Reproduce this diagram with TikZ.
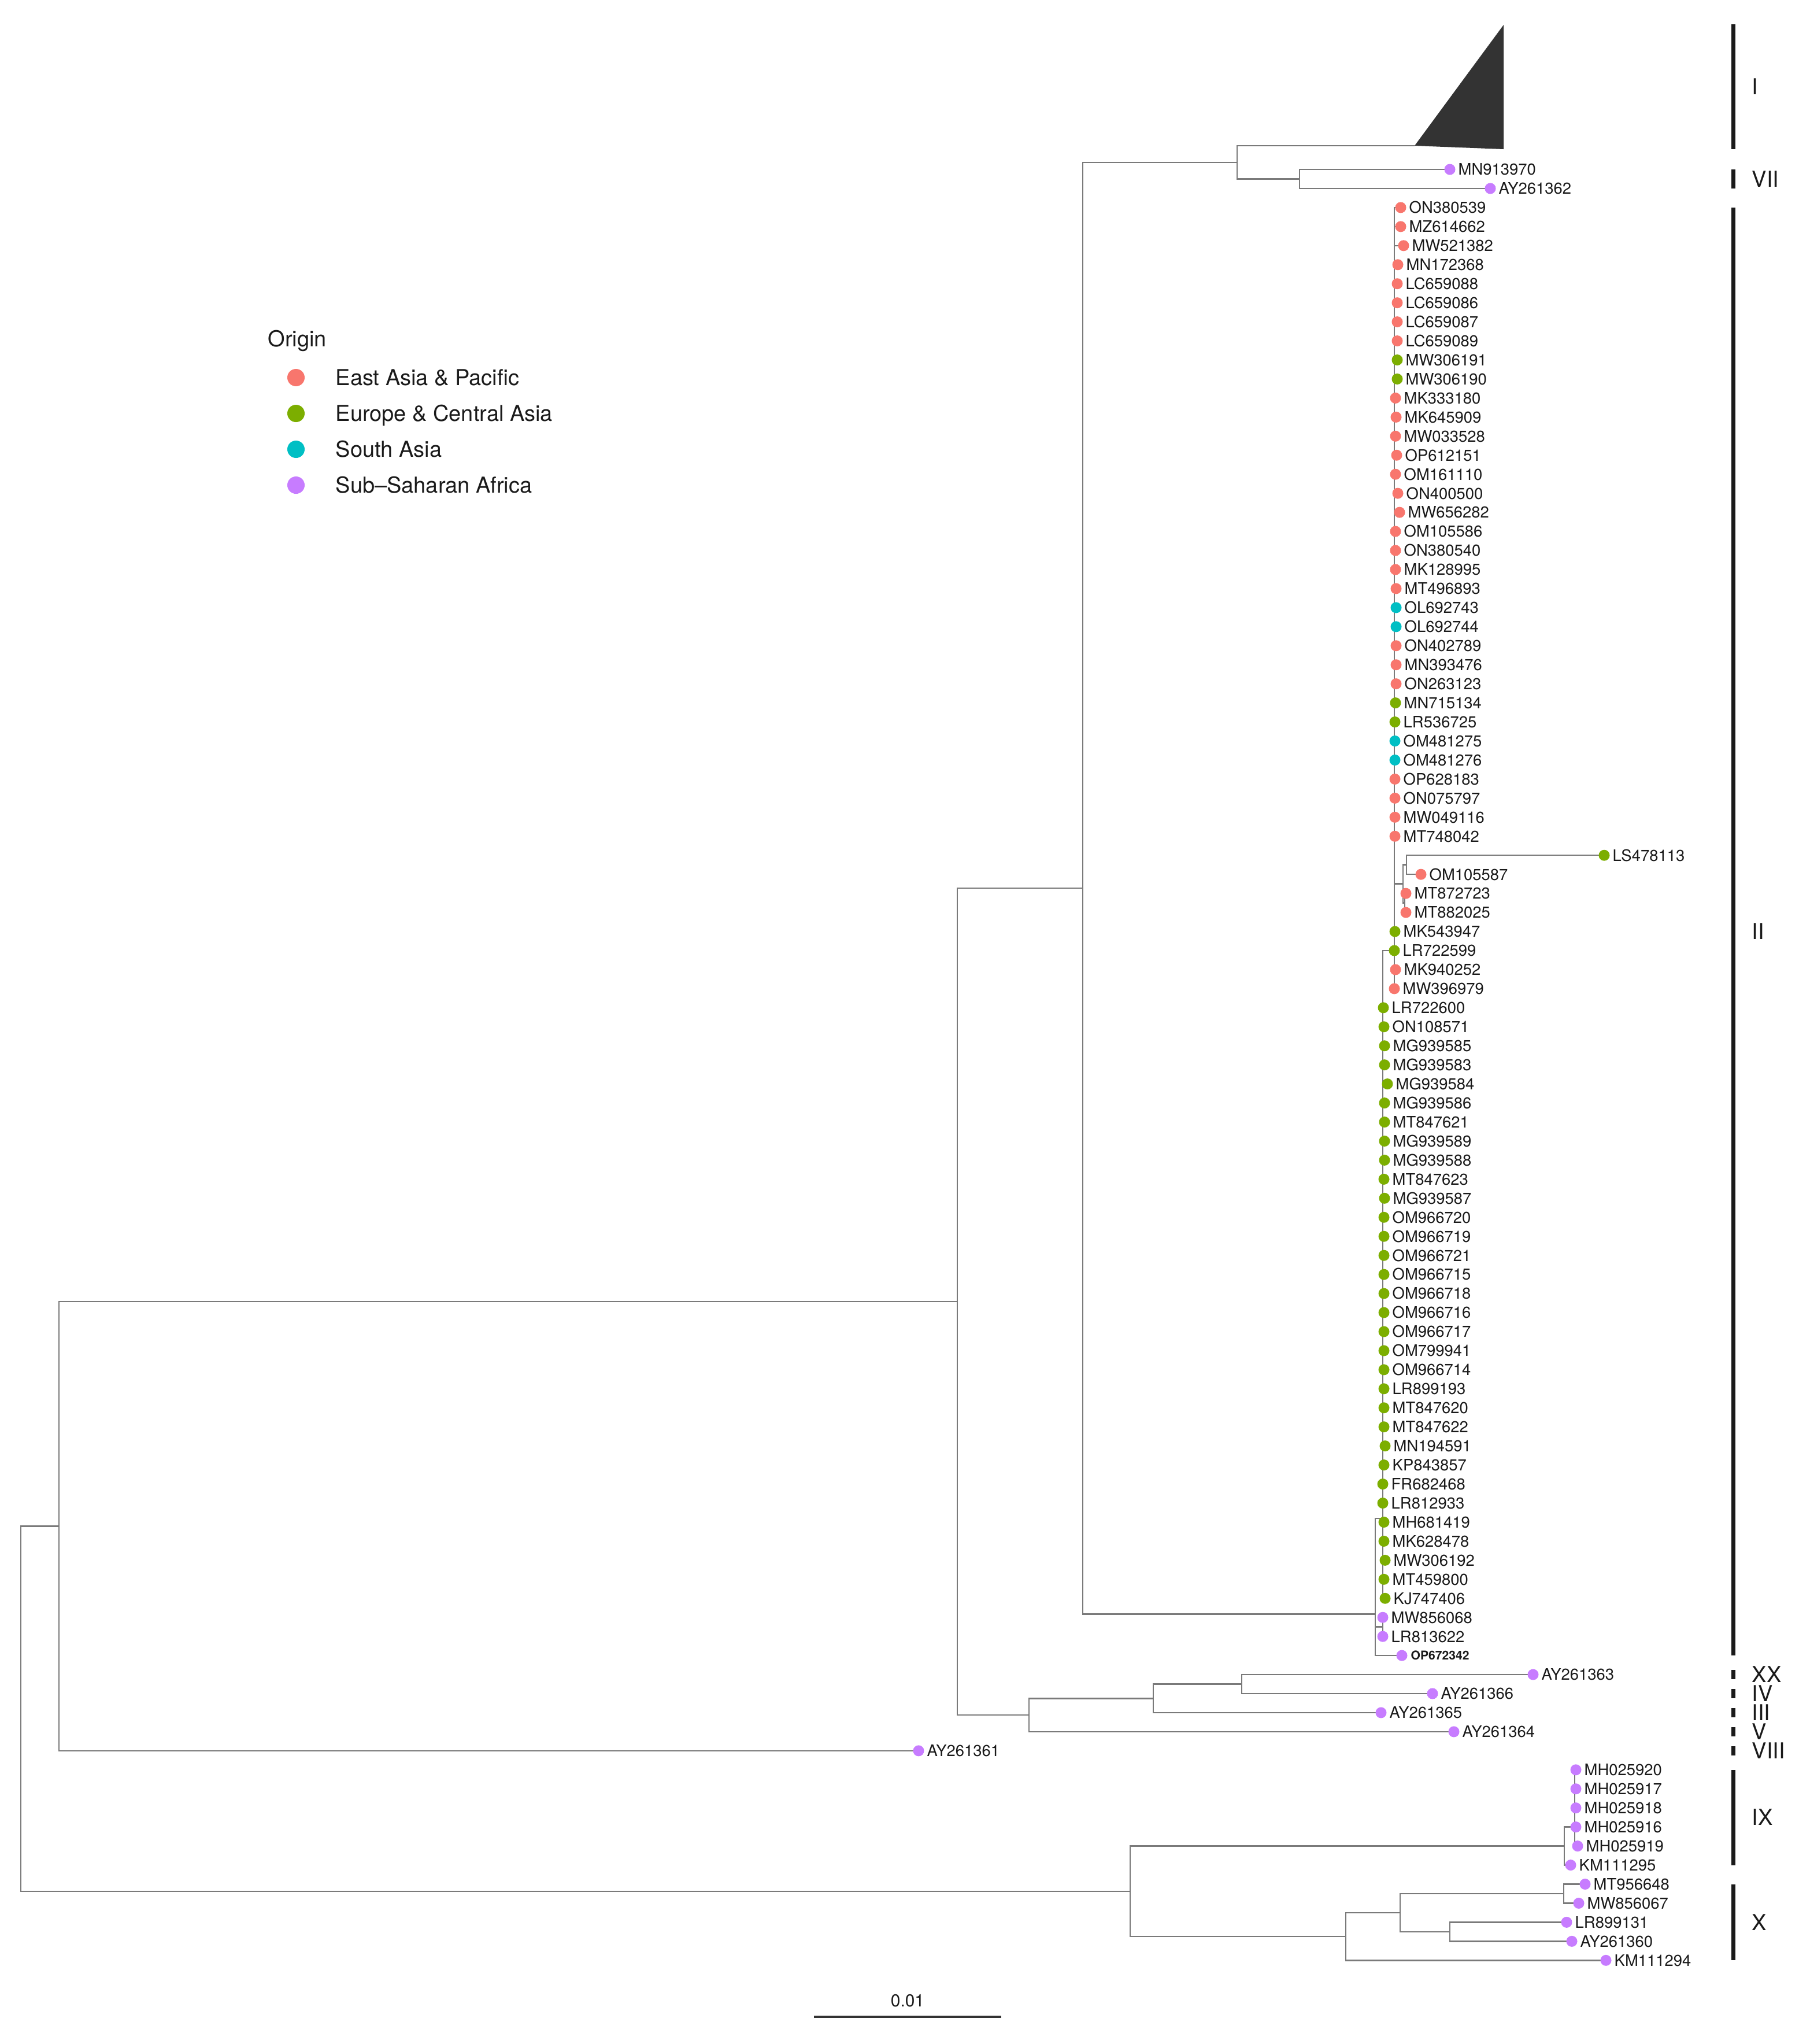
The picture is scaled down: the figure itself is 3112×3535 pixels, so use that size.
\documentclass[tikz,border=0pt]{standalone}
\usepackage{fontspec}
\setmainfont{TeX Gyre Heros}
\definecolor{cea}{HTML}{F8766D}
\definecolor{ceu}{HTML}{7CAE00}
\definecolor{csa}{HTML}{00BFC4}
\definecolor{css}{HTML}{C77CFF}
\definecolor{brc}{HTML}{7A7A7A}
\definecolor{txt}{HTML}{1A1A1A}
\definecolor{trifill}{HTML}{333333}
\pgfdeclarelayer{bg}
\pgfsetlayers{bg,main}
\newcommand{\rowy}[1]{293+32.95*(#1)}
\begin{document}
\begin{tikzpicture}[x=0.01cm,y=-0.01cm,
  br/.style={draw=brc,line width=0.7pt},
  tipdot/.style={circle,inner sep=0pt,minimum size=0.19cm},
  tiplab/.style={anchor=west,inner sep=0pt,font=\fontsize{7.8}{9}\selectfont,text=txt,text height=5.6pt,text depth=0pt},
  cbar/.style={line width=2pt,draw=txt},
  clab/.style={anchor=west,inner sep=0pt,font=\fontsize{10.8}{13}\selectfont,text=txt,text height=7.75pt,text depth=0pt},
  legdot/.style={circle,inner sep=0pt,minimum size=0.3cm},
  leglab/.style={anchor=west,inner sep=0pt,font=\fontsize{10.8}{13}\selectfont,text=txt,text height=7.75pt,text depth=0pt},
]
\useasboundingbox (0,0) rectangle (3112,3535);

% internal nodes
\coordinate (nRoot) at (36,{\rowy{80.79}});
\coordinate (nA) at (102,{\rowy{71.21}});
\coordinate (nJ) at (1955,{\rowy{90.375}});
\coordinate (nB) at (1656,{\rowy{59.43}});
\coordinate (nC) at (1873,{\rowy{37.73}});
\coordinate (nF) at (1780,{\rowy{81.125}});
\coordinate (nG) at (1995,{\rowy{80.25}});
\coordinate (nH) at (2148,{\rowy{79.5}});
\coordinate (nD) at (2140,{\rowy{-0.37}});
\coordinate (triA) at (2447,{\rowy{-1.244}});
\coordinate (triB) at (2601,43);
\coordinate (triC) at (2601,258);
\coordinate (nE) at (2248,{\rowy{0.5}});
\coordinate (nII) at (2379,{\rowy{75.825}});
\coordinate (nV) at (2392,{\rowy{70.8}});
\coordinate (nX) at (2412,{\rowy{41}});
\coordinate (nQ) at (2427,{\rowy{37.5}});
\coordinate (nR) at (2433,{\rowy{36.5}});
\coordinate (nS) at (2430,{\rowy{38.5}});
\coordinate (nU) at (2392,{\rowy{76.5}});
\coordinate (nK) at (2706,{\rowy{88}});
\coordinate (nL) at (2724,{\rowy{87}});
\coordinate (nM) at (2328,{\rowy{92.75}});
\coordinate (nN) at (2422,{\rowy{91.5}});
\coordinate (nO) at (2705,{\rowy{90.5}});
\coordinate (nP) at (2508,{\rowy{92.5}});

% internal branches
\begin{pgfonlayer}{bg}
\draw[br] (nRoot) |- (nA);
\draw[br] (nRoot) |- (nJ);
\draw[br] (nA) |- (nB);
\draw[br] (nB) |- (nC);
\draw[br] (nB) |- (nF);
\draw[br] (nC) |- (nD);
\draw[br] (nC) |- (nII);
\draw[br] (nD) |- (triA);
\draw[br] (nD) |- (nE);
\draw[br] (nII) |- (nV);
\draw[br] (nII) |- (nU);
\draw[br] (nV) |- (nX);
\draw[br] (nX) |- (nQ);
\draw[br] (nQ) |- (nR);
\draw[br] (nQ) |- (nS);
\draw[br] (nF) |- (nG);
\draw[br] (nG) |- (nH);
\draw[br] (nJ) |- (nK);
\draw[br] (nJ) |- (nM);
\draw[br] (nK) |- (nL);
\draw[br] (nM) |- (nN);
\draw[br] (nN) |- (nO);
\draw[br] (nN) |- (nP);
\end{pgfonlayer}

% collapsed clade I
\fill[trifill] (triA) -- (triB) -- (triC) -- cycle;

% tips
\foreach \r/\x/\lab/\c/\p in {
0/2508/MN913970/css/nE,
1/2578/AY261362/css/nE,
2/2423/ON380539/cea/nX,
3/2423/MZ614662/cea/nX,
4/2428/MW521382/cea/nX,
5/2418/MN172368/cea/nX,
6/2417/LC659088/cea/nX,
7/2417/LC659086/cea/nX,
8/2417/LC659087/cea/nX,
9/2417/LC659089/cea/nX,
10/2417/MW306191/ceu/nX,
11/2417/MW306190/ceu/nX,
12/2414/MK333180/cea/nX,
13/2415/MK645909/cea/nX,
14/2414/MW033528/cea/nX,
15/2416/OP612151/cea/nX,
16/2414/OM161110/cea/nX,
17/2418/ON400500/cea/nX,
18/2421/MW656282/cea/nX,
19/2414/OM105586/cea/nX,
20/2414/ON380540/cea/nX,
21/2414/MK128995/cea/nX,
22/2415/MT496893/cea/nX,
23/2415/OL692743/csa/nX,
24/2415/OL692744/csa/nX,
25/2415/ON402789/cea/nX,
26/2415/MN393476/cea/nX,
27/2415/ON263123/cea/nX,
28/2414/MN715134/ceu/nX,
29/2413/LR536725/ceu/nX,
30/2413/OM481275/csa/nX,
31/2413/OM481276/csa/nX,
32/2413/OP628183/cea/nX,
33/2413/ON075797/cea/nX,
34/2413/MW049116/cea/nX,
35/2413/MT748042/cea/nX,
36/2775/LS478113/ceu/nR,
37/2458/OM105587/cea/nR,
38/2432/MT872723/cea/nS,
39/2432/MT882025/cea/nS,
40/2413/MK543947/ceu/nX,
41/2412/LR722599/ceu/nX,
42/2414/MK940252/cea/nX,
43/2412/MW396979/cea/nX,
44/2393/LR722600/ceu/nV,
45/2394/ON108571/ceu/nV,
46/2395/MG939585/ceu/nV,
47/2395/MG939583/ceu/nV,
48/2400/MG939584/ceu/nV,
49/2395/MG939586/ceu/nV,
50/2395/MT847621/ceu/nV,
51/2395/MG939589/ceu/nV,
52/2395/MG939588/ceu/nV,
53/2394/MT847623/ceu/nV,
54/2395/MG939587/ceu/nV,
55/2394/OM966720/ceu/nV,
56/2394/OM966719/ceu/nV,
57/2394/OM966721/ceu/nV,
58/2394/OM966715/ceu/nV,
59/2394/OM966718/ceu/nV,
60/2394/OM966716/ceu/nV,
61/2394/OM966717/ceu/nV,
62/2394/OM799941/ceu/nV,
63/2394/OM966714/ceu/nV,
64/2394/LR899193/ceu/nV,
65/2394/MT847620/ceu/nV,
66/2394/MT847622/ceu/nV,
67/2396/MN194591/ceu/nV,
68/2394/KP843857/ceu/nV,
69/2392/FR682468/ceu/nV,
70/2392/LR812933/ceu/nV,
71/2394/MH681419/ceu/nV,
72/2394/MK628478/ceu/nV,
73/2396/MW306192/ceu/nV,
74/2394/MT459800/ceu/nV,
75/2396/KJ747406/ceu/nV,
76/2392/MW856068/css/nU,
77/2392/LR813622/css/nU,
79/2652/AY261363/css/nH,
80/2478/AY261366/css/nH,
81/2389/AY261365/css/nG,
82/2515/AY261364/css/nF,
83/1589/AY261361/css/nA,
84/2726/MH025920/css/nL,
85/2726/MH025917/css/nL,
86/2726/MH025918/css/nL,
87/2726/MH025916/css/nL,
88/2729/MH025919/css/nL,
89/2717/KM111295/css/nK,
90/2742/MT956648/css/nO,
91/2731/MW856067/css/nO,
92/2710/LR899131/css/nP,
93/2719/AY261360/css/nP,
94/2778/KM111294/css/nM}{
  \node[tipdot,fill=\c] (t\r) at (\x,{\rowy{\r}}) {};
  \node[tiplab] (l\r) at ([xshift=0.14cm]t\r.center) {\lab};
  \begin{pgfonlayer}{bg}
    \draw[br] (\p) |- (t\r.center);
  \end{pgfonlayer}
}
% OP672342 (bold)
\node[tipdot,fill=css] (t78) at (2425,{\rowy{78}}) {};
\node[tiplab,font=\bfseries\fontsize{6}{7}\selectfont,text height=4.3pt] (l78) at ([xshift=0.15cm]t78.center) {OP672342};
\begin{pgfonlayer}{bg}
\draw[br] (nII) |- (t78.center);
\end{pgfonlayer}

% clade bars
\coordinate (bI1) at (2998,42);   \coordinate (bI2) at (2998,258);
\coordinate (bVII1) at (2998,{\rowy{0}}); \coordinate (bVII2) at (2998,{\rowy{1}});
\coordinate (bII1) at (2998,{\rowy{2}}); \coordinate (bII2) at (2998,{\rowy{78}});
\coordinate (bXX1) at (2998,{\rowy{79}-8}); \coordinate (bXX2) at (2998,{\rowy{79}+8});
\coordinate (bIV1) at (2998,{\rowy{80}-8}); \coordinate (bIV2) at (2998,{\rowy{80}+8});
\coordinate (bIII1) at (2998,{\rowy{81}-8}); \coordinate (bIII2) at (2998,{\rowy{81}+8});
\coordinate (bV1) at (2998,{\rowy{82}-8}); \coordinate (bV2) at (2998,{\rowy{82}+8});
\coordinate (bVIII1) at (2998,{\rowy{83}-8}); \coordinate (bVIII2) at (2998,{\rowy{83}+8});
\coordinate (bIX1) at (2998,{\rowy{84}}); \coordinate (bIX2) at (2998,{\rowy{89}});
\coordinate (bX1) at (2998,{\rowy{90}}); \coordinate (bX2) at (2998,{\rowy{94}});
\foreach \b in {I,VII,II,XX,IV,III,V,VIII,IX,X}{
  \draw[cbar] (b\b1) -- (b\b2);
}
\node[clab] (cI) at (3030,150) {I};
\node[clab] (cVII) at (3030,{\rowy{0.5}}) {VII};
\node[clab] (cII) at (3030,{\rowy{40}}) {II};
\node[clab] (cXX) at (3030,{\rowy{79}}) {XX};
\node[clab] (cIV) at (3030,{\rowy{80}}) {IV};
\node[clab] (cIII) at (3030,{\rowy{81}}) {III};
\node[clab] (cV) at (3030,{\rowy{82}}) {V};
\node[clab] (cVIII) at (3030,{\rowy{83}}) {VIII};
\node[clab] (cIX) at (3030,{\rowy{86.5}}) {IX};
\node[clab] (cX) at (3030,{\rowy{92}}) {X};

% legend
\node[leglab] (legtitle) at (463,586) {Origin};
\node[legdot,fill=cea] (lg1) at (512,653) {};
\node[leglab] (lgt1) at (580,653) {East Asia \& Pacific};
\node[legdot,fill=ceu] (lg2) at (512,715) {};
\node[leglab] (lgt2) at (580,715) {Europe \& Central Asia};
\node[legdot,fill=csa] (lg3) at (512,777) {};
\node[leglab] (lgt3) at (580,777) {South Asia};
\node[legdot,fill=css] (lg4) at (512,839) {};
\node[leglab] (lgt4) at (580,839) {Sub\textendash Saharan Africa};

% scale bar
\coordinate (sbL) at (1408,3488);
\coordinate (sbR) at (1732,3488);
\draw[line width=1.1pt,draw=black!80] (sbL) -- (sbR);
\node[inner sep=0pt,font=\fontsize{8.5}{10}\selectfont,text=txt,text height=6.1pt,text depth=0pt] (sblab) at (1570,3460) {0.01};
\end{tikzpicture}
\end{document}
